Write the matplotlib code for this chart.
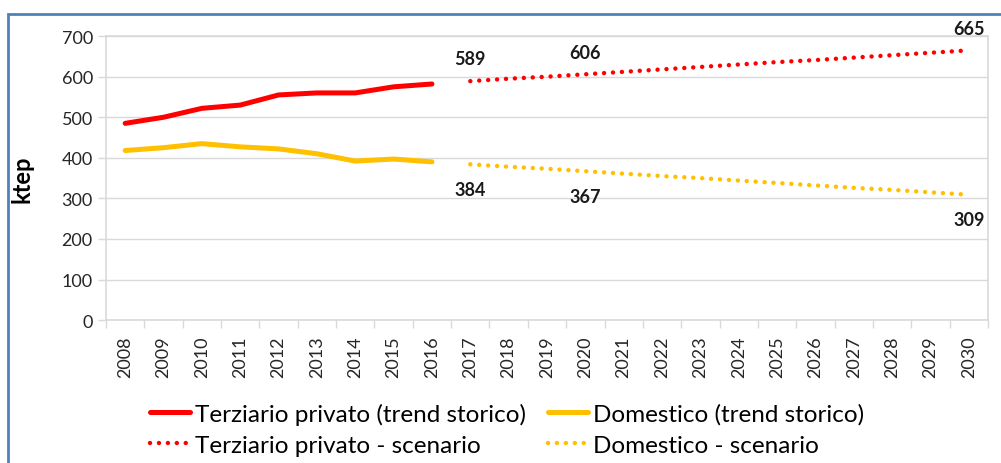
import matplotlib.pyplot as plt
from matplotlib.patches import Rectangle

plt.rcParams['font.family'] = ['Lato', 'DejaVu Sans']

# dati
years = [str(y) for y in range(2008, 2031)]
terziario_storico = [485, 500, 522, 530, 555, 560, 560, 575, 582]
domestico_storico = [418, 425, 435, 427, 422, 410, 392, 397, 390]
terziario_scenario = [589, 595, 600, 606, 612, 618, 624, 630, 636, 641, 647, 653, 659, 665]
domestico_scenario = [384, 378, 373, 367, 361, 355, 350, 344, 338, 332, 326, 321, 315, 309]
etichette_anni = ["2017", "2020", "2030"]

red = "#ff0000"
yellow = "#ffc000"
grid_c = "#d9d9d9"

fig = plt.figure(figsize=(10.01, 4.64), dpi=100)
ax = fig.add_axes([0.1059, 0.308, 0.8811, 0.612])

x_hist = list(range(len(terziario_storico)))
x_scen = list(range(len(terziario_storico), len(years)))

l1, = ax.plot(x_hist, terziario_storico, color=red, lw=3.6, solid_capstyle='round',
              solid_joinstyle='round', label="Terziario privato (trend storico)")
l2, = ax.plot(x_hist, domestico_storico, color=yellow, lw=3.6, solid_capstyle='round',
              solid_joinstyle='round', label="Domestico (trend storico)")
l3, = ax.plot(x_scen, terziario_scenario, color=red, lw=3.2, linestyle=(0, (0.01, 2.0)),
              dash_capstyle='round', label="Terziario privato - scenario")
l4, = ax.plot(x_scen, domestico_scenario, color=yellow, lw=3.2, linestyle=(0, (0.01, 2.0)),
              dash_capstyle='round', label="Domestico - scenario")

# etichette valori
for yr in etichette_anni:
    i = years.index(yr)
    j = i - len(terziario_storico)
    ax.annotate(str(terziario_scenario[j]), (i, terziario_scenario[j]), xytext=(0, 16),
                textcoords='offset points', ha='center', va='center',
                fontsize=13, fontweight='bold', color='#1a1a1a', annotation_clip=False)
    ax.annotate(str(domestico_scenario[j]), (i, domestico_scenario[j]), xytext=(0, -18),
                textcoords='offset points', ha='center', va='center',
                fontsize=13, fontweight='bold', color='#1a1a1a', annotation_clip=False)

ax.set_xlim(-0.5, len(years) - 0.5)
ax.set_ylim(0, 700)
ax.set_yticks(range(0, 701, 100))
ax.set_xticks(range(len(years)))
ax.set_xticklabels(years, rotation=90, fontsize=13, color='#262626')
ax.tick_params(axis='x', length=0, pad=11)
ax.set_xticks([i + 0.5 for i in range(-1, len(years))], minor=True)
ax.tick_params(axis='x', which='minor', length=6, color=grid_c, width=1)
ax.tick_params(axis='y', labelsize=13, labelcolor='#262626', length=6, color=grid_c, width=1)
ax.grid(axis='y', color=grid_c, lw=1)
ax.set_axisbelow(True)
for s in ax.spines.values():
    s.set_color(grid_c)
    s.set_linewidth(1.2)

ax.set_ylabel("ktep", fontsize=17, fontweight='bold', labelpad=20)

fig.legend([l1, l3, l2, l4], [l1.get_label(), l3.get_label(), l2.get_label(), l4.get_label()],
           ncol=2, loc='center left', bbox_to_anchor=(0.138, 0.073), frameon=False,
           fontsize=17.5, handlelength=1.65, handletextpad=0.2, columnspacing=0.9,
           labelspacing=0.4, borderpad=0)

# cornice blu
fig.patches.append(Rectangle((0.0075, -0.05), 1.1, 1.018, transform=fig.transFigure,
                             fill=False, edgecolor='#4f81bd', lw=2))

fig.savefig("out.png", dpi=100, facecolor='white')
